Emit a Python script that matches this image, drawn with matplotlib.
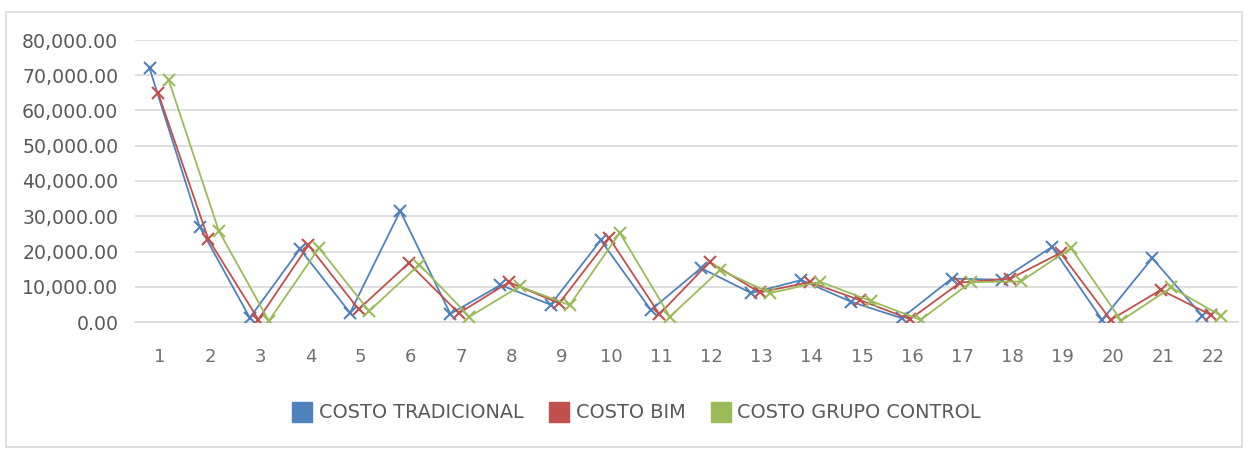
import matplotlib
matplotlib.use("Agg")
import matplotlib.pyplot as plt
from matplotlib.patches import Rectangle
from matplotlib.lines import Line2D
from matplotlib.ticker import FuncFormatter, MultipleLocator
import numpy as np

plt.rcParams["font.family"] = ["DejaVu Sans"]

partidas = list(range(1, 23))

costo_tradicional = [72000, 27000, 1200, 20700, 2600, 31500, 2300, 10500, 4900, 23200, 3400,
                     15300, 8200, 11900, 5700, 1100, 12300, 12000, 21300, 600, 18100, 1700]
costo_bim = [65000, 23600, 700, 21800, 3600, 16700, 2500, 11300, 5300, 23800, 2200,
             17000, 8400, 11300, 6200, 800, 11200, 12300, 19600, 600, 9100, 2000]
costo_grupo_control = [68700, 25900, 300, 21000, 3100, 16300, 1500, 10100, 4800, 25300, 1500,
                       14800, 8200, 11400, 6000, 600, 11300, 11500, 21000, 400, 9800, 1700]

series = [
    ("COSTO TRADICIONAL", costo_tradicional, "#4F81BD", -0.21),
    ("COSTO BIM", costo_bim, "#C0504D", -0.04),
    ("COSTO GRUPO CONTROL", costo_grupo_control, "#9BBB59", 0.17),
]

fig = plt.figure(figsize=(12.52, 4.54), dpi=100)
W, H = 1252, 454

# outer chart frame
fig.patches.append(Rectangle((6 / W, 1 - 447 / H), 1236 / W, 435 / H,
                             transform=fig.transFigure, fill=False,
                             edgecolor="#D9D9D9", linewidth=1.2))

ax = fig.add_axes([135 / W, 1 - 322 / H, 1103 / W, 282 / H])

x = np.array(partidas, dtype=float)
handles = []
for name, vals, color, off in series:
    ax.plot(x + off, vals, color=color, linewidth=1.3, marker="x",
            markersize=9, markeredgewidth=1.5, zorder=3)
    handles.append(Line2D([], [], linestyle="none", marker="s", markersize=14,
                          markerfacecolor=color, markeredgecolor=color, label=name))

ax.set_xlim(0.5, 22.5)
ax.set_ylim(0, 80000)
ax.yaxis.set_major_locator(MultipleLocator(10000))
ax.yaxis.set_major_formatter(FuncFormatter(lambda v, p: f"{v:,.2f}"))
ax.set_xticks(partidas)
ax.set_xticklabels([str(p) for p in partidas])

ax.grid(axis="y", color="#D9D9D9", linewidth=1.2)
ax.set_axisbelow(True)
for s in ["top", "right", "left"]:
    ax.spines[s].set_visible(False)
ax.spines["bottom"].set_color("#D9D9D9")
ax.spines["bottom"].set_linewidth(1.2)
ax.tick_params(axis="y", length=0, colors="#595959", labelsize=13.6, pad=12)
ax.tick_params(axis="x", length=0, colors="#6F6F6F", labelsize=13, pad=19)

fig.legend(handles=handles, loc="center", bbox_to_anchor=(0.509, 1 - 413 / H),
           ncol=3, frameon=False, fontsize=13.9, labelcolor="#595959",
           handletextpad=0.4, columnspacing=1.4, handlelength=0.9)

fig.savefig("out.png", dpi=100, facecolor="white")
